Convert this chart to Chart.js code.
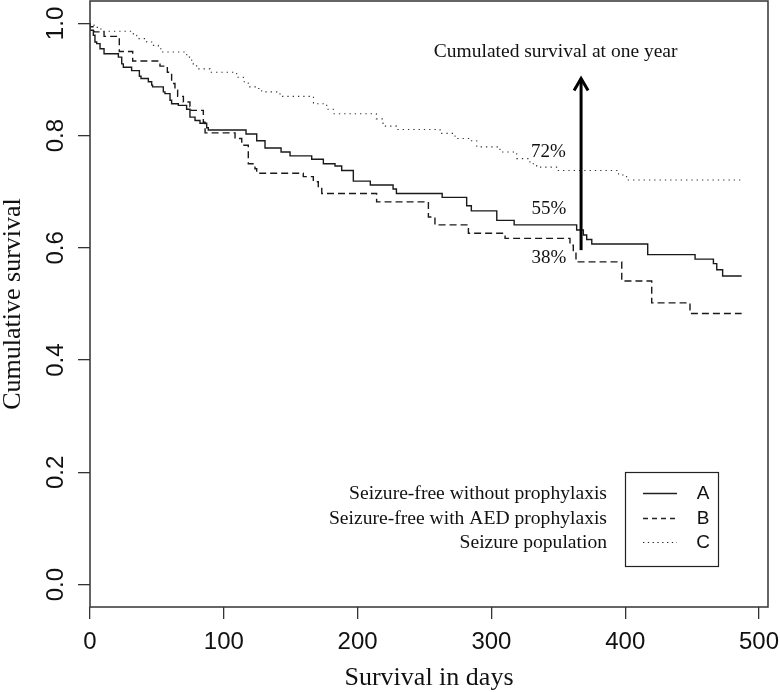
<!DOCTYPE html>
<html>
<head>
<meta charset="utf-8">
<script src="https://cdn.jsdelivr.net/npm/chart.js@4/dist/chart.umd.min.js"></script>
<style>
  body { margin: 0; background: #fff; }
  canvas { display: block; }
</style>
</head>
<body>
<canvas id="survivalChart" width="780" height="692"></canvas>
<script>
// Kaplan-Meier curves (day of step, survival after it)
const daysA = [0, 2.5, 3.7, 5, 7.5, 10.5, 21.2, 23.7, 24.9, 31.1, 36.9, 38.1, 43.6, 46.1, 46.8, 54.8, 56, 59.8, 61, 66, 72.2, 74.7, 78.5, 82.2, 87.2, 88.4, 116.6, 124.6, 130.8, 142.8, 149.5, 165.7, 174.4, 183.1, 188.1, 196.8, 209.5, 226.5, 229, 263.2, 281.5, 285, 304, 317, 363.7, 368.7, 371.2, 375, 416.8, 452.2, 465.9, 468.4, 472.8, 482, 487];
const survA = [1.0, 0.988, 0.979, 0.967, 0.964, 0.955, 0.946, 0.940, 0.928, 0.922, 0.916, 0.906, 0.902, 0.896, 0.890, 0.887, 0.878, 0.875, 0.863, 0.857, 0.854, 0.847, 0.833, 0.827, 0.822, 0.814, 0.810, 0.803, 0.791, 0.778, 0.771, 0.764, 0.758, 0.750, 0.746, 0.738, 0.719, 0.712, 0.705, 0.697, 0.690, 0.675, 0.666, 0.649, 0.641, 0.632, 0.623, 0.615, 0.607, 0.588, 0.580, 0.572, 0.561, 0.550, 0.550];

const daysB = [0, 3, 10.5, 21.9, 31.9, 52.3, 57.8, 61, 63.5, 65.5, 69.8, 74.7, 75.5, 84.7, 86, 108.4, 113.4, 118.3, 123.3, 124.6, 159.4, 166.9, 170.6, 173.2, 214.2, 252.9, 257.8, 282.8, 310.2, 358.7, 361.2, 363.2, 397.4, 419.8, 448.4, 458.4, 487];
const survB = [1.0, 0.994, 0.985, 0.977, 0.950, 0.933, 0.924, 0.913, 0.893, 0.881, 0.870, 0.860, 0.852, 0.845, 0.824, 0.805, 0.795, 0.783, 0.750, 0.741, 0.733, 0.727, 0.718, 0.708, 0.697, 0.682, 0.655, 0.641, 0.626, 0.617, 0.605, 0.593, 0.575, 0.541, 0.502, 0.483, 0.483];

const daysC = [0, 3, 6, 10, 32.4, 34.9, 42.4, 46.1, 51.1, 53.6, 72.3, 76, 79.7, 89.7, 109.6, 114.6, 118.3, 124.6, 128.3, 142, 167, 176.9, 181.8, 214, 219, 229, 261.6, 272.8, 284, 289, 306.4, 318.9, 328.8, 333.8, 350, 395, 401, 410, 486];
const survC = [1.0, 0.997, 0.993, 0.990, 0.986, 0.979, 0.973, 0.967, 0.961, 0.955, 0.949, 0.940, 0.928, 0.919, 0.913, 0.904, 0.896, 0.887, 0.884, 0.878, 0.870, 0.857, 0.847, 0.839, 0.830, 0.817, 0.811, 0.804, 0.795, 0.791, 0.780, 0.771, 0.759, 0.750, 0.744, 0.738, 0.730, 0.721, 0.721];

const groupNames = ['Seizure-free without prophylaxis', 'Seizure-free with AED prophylaxis', 'Seizure population'];
const groupKeys = ['A', 'B', 'C'];
const pctLabels = ['72%', '55%', '38%'];

const xTicks = [0, 100, 200, 300, 400, 500];
const yTicks = [0, 0.2, 0.4, 0.6, 0.8, 1.0];

const serif = '"Liberation Serif", "Times New Roman", serif';
const sans = '"Liberation Sans", Arial, sans-serif';
const ink = '#1a1a1a';

const toPoints = (days, surv) => days.map((d, i) => ({ x: d, y: surv[i] }));

// box, arrow, notes and the R-style legend
const decorations = {
    id: 'decorations',
    afterDatasetsDraw(chart) {
        const { ctx, chartArea: a, scales: { x, y } } = chart;
        ctx.save();

        ctx.strokeStyle = '#333';
        ctx.lineWidth = 1.5;
        ctx.strokeRect(a.left, a.top, a.right - a.left, a.bottom - a.top);

        // one-year arrow
        const ax = x.getPixelForValue(367);
        const yBot = y.getPixelForValue(0.596);
        const yTop = y.getPixelForValue(0.902);
        ctx.strokeStyle = '#000';
        ctx.lineWidth = 3;
        ctx.beginPath();
        ctx.moveTo(ax, yBot);
        ctx.lineTo(ax, yTop);
        ctx.stroke();
        ctx.beginPath();
        ctx.moveTo(ax - 7, yTop + 12);
        ctx.lineTo(ax, yTop);
        ctx.lineTo(ax + 7, yTop + 12);
        ctx.stroke();

        ctx.fillStyle = '#111';
        ctx.textBaseline = 'alphabetic';
        ctx.textAlign = 'center';
        ctx.font = '19.5px ' + serif;
        ctx.fillText('Cumulated survival at one year', x.getPixelForValue(348), y.getPixelForValue(0.940));
        ctx.font = '19px ' + serif;
        ctx.fillText(pctLabels[0], x.getPixelForValue(342.5), y.getPixelForValue(0.762));
        ctx.fillText(pctLabels[1], x.getPixelForValue(343), y.getPixelForValue(0.661));
        ctx.fillText(pctLabels[2], x.getPixelForValue(343), y.getPixelForValue(0.5735));

        // legend
        const baselines = [499, 524, 548];
        const dashes = [[], [5, 4], [1.3, 3.5]];
        ctx.strokeStyle = '#222';
        ctx.lineWidth = 1.2;
        ctx.setLineDash([]);
        ctx.strokeRect(625.5, 472.5, 93, 94);
        baselines.forEach((b, i) => {
            ctx.font = '19.6px ' + serif;
            ctx.textAlign = 'right';
            ctx.fillText(groupNames[i], 607, b);
            ctx.font = '19px ' + sans;
            ctx.textAlign = 'center';
            ctx.fillText(groupKeys[i], 703, b);
            ctx.setLineDash(dashes[i]);
            ctx.lineWidth = i === 2 ? 1.1 : 1.3;
            ctx.beginPath();
            ctx.moveTo(643, b - 5.5);
            ctx.lineTo(677, b - 5.5);
            ctx.stroke();
        });
        ctx.restore();
    }
};

const ctxEl = document.getElementById('survivalChart');
new Chart(ctxEl, {
    type: 'line',
    data: {
        datasets: [
            { label: 'A', data: toPoints(daysA, survA), borderColor: ink, borderWidth: 1.4 },
            { label: 'B', data: toPoints(daysB, survB), borderColor: ink, borderWidth: 1.4, borderDash: [7, 4] },
            { label: 'C', data: toPoints(daysC, survC), borderColor: '#333', borderWidth: 1.1, borderDash: [1.3, 4] }
        ]
    },
    options: {
        responsive: false,
        animation: false,
        devicePixelRatio: 1,
        layout: { padding: { top: 1, right: 12, bottom: 0, left: 0 } },
        datasets: {
            line: { stepped: 'after', pointRadius: 0, fill: false, tension: 0 }
        },
        scales: {
            x: {
                type: 'linear',
                min: 0,
                max: 506.7,
                afterFit(scale) {
                    scale.height = 85;
                    scale.paddingLeft = 0;
                    scale.paddingRight = 0;
                },
                afterBuildTicks(scale) { scale.ticks = xTicks.map(v => ({ value: v })); },
                grid: { drawOnChartArea: false, drawTicks: true, tickLength: 12, color: '#333', lineWidth: 1.3 },
                border: { display: false },
                ticks: {
                    padding: 9,
                    color: '#111',
                    font: { family: sans, size: 24 },
                    maxRotation: 0,
                    callback: v => String(v)
                },
                title: {
                    display: true,
                    text: 'Survival in days',
                    color: '#111',
                    font: { family: serif, size: 26, lineHeight: 1 },
                    padding: { top: 0, bottom: 1 }
                }
            },
            y: {
                min: -0.04,
                max: 1.04,
                afterFit(scale) {
                    scale.width = 90;
                    scale.paddingTop = 0;
                    scale.paddingBottom = 0;
                },
                afterBuildTicks(scale) { scale.ticks = yTicks.map(v => ({ value: v })); },
                grid: { drawOnChartArea: false, drawTicks: true, tickLength: 12, color: '#333', lineWidth: 1.3 },
                border: { display: false },
                ticks: {
                    padding: 5,
                    color: '#111',
                    crossAlign: 'center',
                    minRotation: 90,
                    maxRotation: 90,
                    font: { family: sans, size: 24 },
                    callback: v => Number(v).toFixed(1)
                },
                title: {
                    display: true,
                    text: 'Cumulative survival',
                    color: '#111',
                    font: { family: serif, size: 26, lineHeight: 1 },
                    padding: { top: 0, bottom: 0 }
                }
            }
        },
        plugins: {
            legend: { display: false },
            tooltip: { enabled: false }
        }
    },
    plugins: [decorations]
});
</script>
</body>
</html>
